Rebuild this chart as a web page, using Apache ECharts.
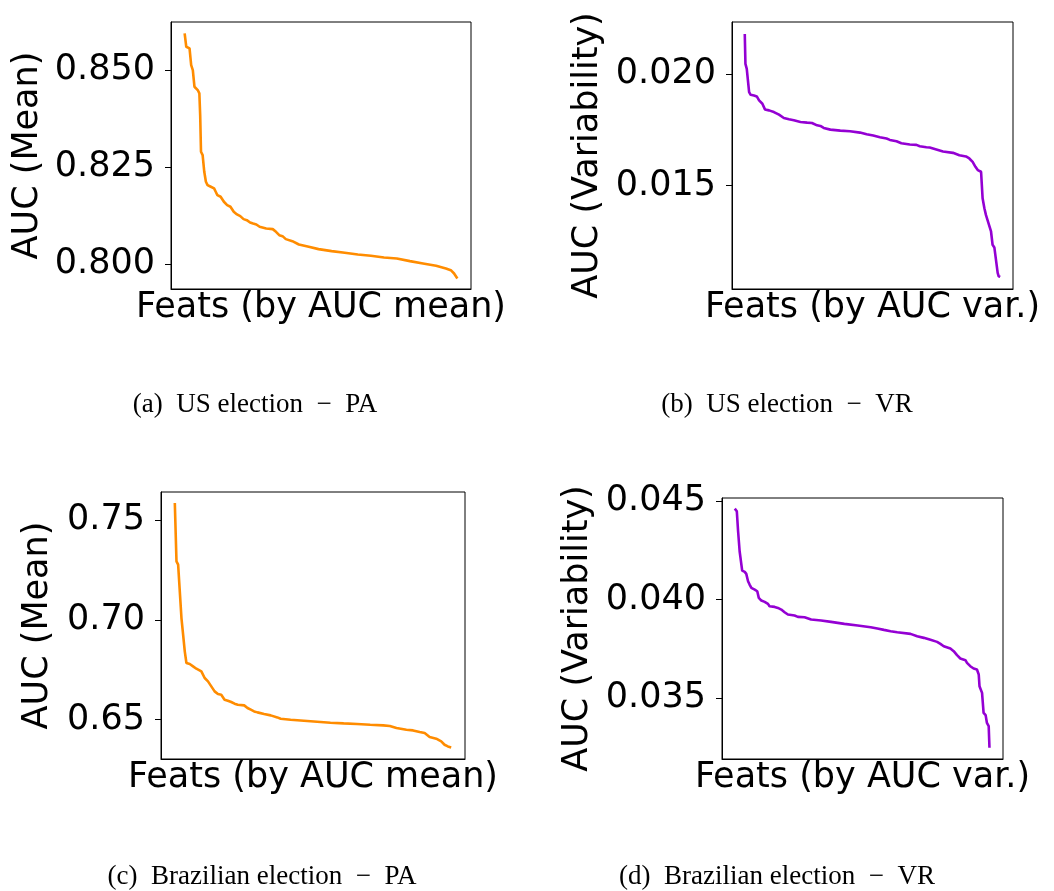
<!DOCTYPE html>
<html>
<head>
<meta charset="utf-8">
<script src="https://cdn.jsdelivr.net/npm/echarts@6/dist/echarts.min.js"></script>
<style>
html,body{margin:0;padding:0;background:#fff;}
#chart{width:1054px;height:891px;}
</style>
</head>
<body>
<div id="chart"></div>
<script>
// ---- data (feature rank 0..100, value) ----
const rankA = [0,0.6,1.8,2.4,3.0,3.6,4.8,5.4,5.7,6.0,6.6,7.2,7.8,8.4,9.6,10.8,11.4,12.0,13.2,14.4,15.6,16.8,18.0,19.2,20.4,21.6,22.8,24.0,25.1,26.3,27.5,29.9,32.3,33.5,34.7,35.9,37.1,39.5,41.9,45.5,49.1,53.9,58.7,63.5,68.3,73.1,77.8,82.6,87.4,92.2,95.8,97.6,98.8,100];
const usMean = [0.85947,0.85602,0.85559,0.85129,0.85000,0.84570,0.84484,0.84398,0.83838,0.82892,0.82805,0.82375,0.82117,0.82031,0.81988,0.81945,0.81859,0.81773,0.81730,0.81601,0.81515,0.81472,0.81342,0.81274,0.81231,0.81153,0.81127,0.81067,0.81041,0.81015,0.80955,0.80912,0.80895,0.80826,0.80740,0.80714,0.80637,0.80585,0.80499,0.80439,0.80379,0.80327,0.80284,0.80241,0.80207,0.80163,0.80138,0.80069,0.80009,0.79948,0.79880,0.79836,0.79750,0.79621];

const rankB = [0,0.26,0.78,1.7,2.3,3.6,4.7,5.6,6.9,7.9,9.5,11.4,13.4,15.3,17.3,19.2,21.8,24.4,26.3,28.3,29.6,30.9,33.5,37.4,41.2,45.1,47.7,50.3,52.9,55.5,56.8,59.4,61.3,64.6,67.2,68.5,71.1,72.4,75.0,77.6,81.5,84.0,86.6,87.9,89.2,90.3,91.2,91.8,92.5,93.1,93.8,94.4,95.1,95.7,96.4,97.0,97.7,98.3,99.0,99.4,100];
const usVar = [0.021780,0.020445,0.020223,0.019184,0.019065,0.019036,0.018991,0.018813,0.018665,0.018412,0.018368,0.018294,0.018175,0.018027,0.017967,0.017923,0.017849,0.017819,0.017804,0.017700,0.017671,0.017582,0.017507,0.017463,0.017433,0.017374,0.017300,0.017240,0.017166,0.017107,0.017047,0.016988,0.016899,0.016840,0.016825,0.016766,0.016721,0.016706,0.016617,0.016528,0.016469,0.016365,0.016306,0.016217,0.016068,0.015846,0.015697,0.015668,0.015623,0.014436,0.013991,0.013694,0.013620,0.013219,0.012952,0.012359,0.012240,0.012181,0.011098,0.010949,0.010920];

const rankC = [0,0.6,1.2,1.8,2.4,3.0,3.6,4.2,5.4,6.6,7.8,9.6,10.8,12.0,13.2,14.4,15.6,16.8,18.0,19.2,20.4,21.6,22.8,25.1,26.3,27.5,28.7,29.9,32.3,34.7,37.1,38.3,41.9,46.7,51.5,56.3,61.1,65.9,70.7,75.4,77.8,80.2,83.8,86.2,88.6,90.4,92.2,94.6,96.4,97.6,98.8,100];
const brMean = [0.75870,0.72943,0.72776,0.71438,0.70100,0.69264,0.68428,0.67843,0.67793,0.67676,0.67559,0.67425,0.67091,0.66923,0.66673,0.66422,0.66288,0.66254,0.66004,0.65953,0.65887,0.65803,0.65753,0.65719,0.65586,0.65502,0.65418,0.65368,0.65284,0.65218,0.65117,0.65050,0.65000,0.64950,0.64900,0.64850,0.64816,0.64783,0.64749,0.64716,0.64682,0.64582,0.64498,0.64465,0.64381,0.64331,0.64131,0.64047,0.63913,0.63746,0.63662,0.63612];

const rankD = [0,0.8,1.3,1.9,2.9,3.9,4.5,5.2,5.8,6.5,7.8,8.8,9.4,10.4,11.7,13.0,13.6,15.6,16.9,18.2,19.5,20.8,23.4,24.7,27.3,29.9,33.8,37.7,42.9,48.1,53.2,55.8,58.4,61.0,63.6,68.8,71.4,74.0,76.6,79.2,80.5,81.8,84.4,85.7,87.0,88.3,90.3,90.9,92.2,93.5,94.8,95.5,95.8,96.8,97.4,98.2,98.7,99.4,99.7,100];
const brVar = [0.044604,0.044469,0.043457,0.042445,0.041467,0.041400,0.041298,0.040927,0.040759,0.040590,0.040506,0.040422,0.040084,0.039949,0.039882,0.039781,0.039663,0.039629,0.039578,0.039494,0.039359,0.039241,0.039191,0.039123,0.039106,0.038988,0.038938,0.038870,0.038769,0.038685,0.038600,0.038533,0.038465,0.038398,0.038347,0.038263,0.038145,0.038061,0.037960,0.037858,0.037757,0.037639,0.037521,0.037386,0.037184,0.037015,0.036931,0.036796,0.036627,0.036509,0.036459,0.036206,0.035616,0.035278,0.034267,0.034149,0.033761,0.033592,0.032496];

const ticksA = [0.800, 0.825, 0.850];
const ticksB = [0.015, 0.020];
const ticksC = [0.65, 0.70, 0.75];
const ticksD = [0.035, 0.040, 0.045];

const yNames = ['AUC (Mean)', 'AUC (Variability)', 'AUC (Mean)', 'AUC (Variability)'];
const xNames = ['Feats (by AUC mean)', 'Feats (by AUC var.)', 'Feats (by AUC mean)', 'Feats (by AUC var.)'];
const captions = ['(a)  US election  \u2212  PA', '(b)  US election  \u2212  VR', '(c)  Brazilian election  \u2212  PA', '(d)  Brazilian election  \u2212  VR'];

// ---- layout ----
const ORANGE = '#ff8c00', PURPLE = '#9400d3';
const grids = [
  {left:171, top:22, width:300, height:267},
  {left:732, top:22, width:281, height:267},
  {left:161, top:492, width:304, height:267},
  {left:722, top:498, width:281, height:261}
];
const yRanges = [[0.7935,0.8624],[0.01038,0.02232],[0.6303,0.7642],[0.03193,0.04514]];
const yTicks = [ticksA, ticksB, ticksC, ticksD];
const yDec = [3,3,2,3];
const nameGaps = [126,127,106,127];
const series = [[rankA,usMean,ORANGE],[rankB,usVar,PURPLE],[rankC,brMean,ORANGE],[rankD,brVar,PURPLE]];
const capPos = [[255,405],[787,405],[262,877],[777,877]];

const font = 'DejaVu Sans';
const option = {
  animation:false,
  backgroundColor:'#fff',
  grid: grids.map(g => Object.assign({show:true, borderColor:'#000', borderWidth:1, backgroundColor:'transparent', containLabel:false}, g)),
  xAxis: grids.map((g,i) => ({
    gridIndex:i, type:'value', min:-5, max:105,
    axisLine:{show:true, onZero:false, lineStyle:{color:'#000', width:1}},
    axisTick:{show:false}, axisLabel:{show:false}, splitLine:{show:false},
    name:xNames[i], nameLocation:'middle', nameGap:1,
    nameTextStyle:{fontFamily:font, fontSize:35, color:'#000'}
  })),
  yAxis: grids.map((g,i) => ({
    gridIndex:i, type:'value', min:yRanges[i][0], max:yRanges[i][1],
    axisLine:{show:true, onZero:false, lineStyle:{color:'#000', width:1}},
    axisTick:{show:true, length:6, customValues:yTicks[i], lineStyle:{color:'#000', width:1}},
    axisLabel:{show:true, customValues:yTicks[i], margin:16, fontFamily:font, fontSize:35, color:'#000',
      formatter: v => Number(v).toFixed(yDec[i])},
    splitLine:{show:false},
    name:yNames[i], nameLocation:'middle', nameGap:nameGaps[i], nameRotate:90,
    nameTextStyle:{fontFamily:font, fontSize:35, color:'#000'}
  })),
  series: series.map((s,i) => ({
    type:'line', xAxisIndex:i, yAxisIndex:i,
    data: s[0].map((x,k) => [x, s[1][k]]),
    showSymbol:false, symbol:'none',
    lineStyle:{color:s[2], width:2.6}, itemStyle:{color:s[2]}
  })),
  graphic: captions.map((c,i) => ({
    type:'text', x:capPos[i][0], y:capPos[i][1],
    style:{text:c, fontFamily:'Liberation Serif', fontSize:27, fill:'#000', align:'center', verticalAlign:'middle'}
  }))
};
const chart = echarts.init(document.getElementById('chart'), null, {renderer:'canvas'});
chart.setOption(option);
</script>
</body>
</html>
